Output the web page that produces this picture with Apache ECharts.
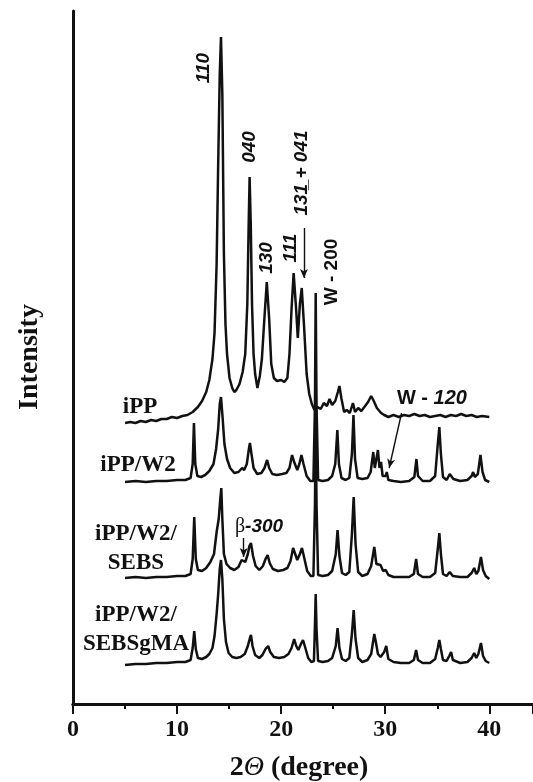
<!DOCTYPE html>
<html>
<head>
<meta charset="utf-8">
<script src="https://cdn.jsdelivr.net/npm/echarts@6/dist/echarts.min.js"></script>
<style>
  html, body { margin: 0; padding: 0; background: #fff; }
  #main { width: 533px; height: 782px; }
</style>
</head>
<body>
<div id="main"></div>
<script>
// 2-theta (degree) vs intensity (a.u., stacked with offsets as in the figure)
var xTicks = [0, 10, 20, 30, 40]

var iPP = [
  [5.0, 281], [5.5, 282], [6.0, 281], [6.5, 283], [7.0, 282], [7.5, 284], [8.0, 283], [8.5, 285],
  [9.0, 285], [9.5, 287], [10.0, 286], [10.5, 288], [11.0, 289], [11.5, 292], [12.0, 297], [12.4, 303],
  [12.8, 312], [13.1, 324], [13.4, 345], [13.6, 371], [13.8, 440], [13.95, 540], [14.1, 630], [14.22, 667],
  [14.35, 610], [14.5, 450], [14.65, 380], [14.8, 350], [15.04, 326], [15.3, 316], [15.5, 312], [15.7, 314],
  [16.0, 320], [16.3, 332], [16.55, 350], [16.75, 400], [16.88, 480], [16.97, 527], [17.08, 480], [17.2, 400],
  [17.35, 350], [17.5, 330], [17.72, 316], [17.95, 328], [18.15, 345], [18.4, 387], [18.62, 422], [18.85, 385],
  [19.05, 340], [19.3, 326], [19.6, 323], [20.0, 324], [20.3, 322], [20.6, 326], [20.8, 350], [21.0, 395],
  [21.2, 431], [21.42, 398], [21.6, 366], [21.8, 400], [21.98, 416], [22.2, 378], [22.45, 330], [22.7, 310],
  [22.95, 300], [23.2, 294], [23.5, 297], [23.8, 295], [24.1, 301], [24.4, 298], [24.65, 305], [24.9, 299],
  [25.2, 303], [25.45, 312], [25.6, 318], [25.8, 305], [26.05, 292], [26.3, 294], [26.6, 291], [26.9, 301],
  [27.1, 292], [27.4, 296], [27.7, 293], [28.0, 297], [28.35, 302], [28.65, 308], [28.9, 303], [29.2, 296],
  [29.6, 291], [29.9, 289], [30.3, 287], [30.8, 289], [31.3, 287], [31.8, 289], [32.3, 288], [32.8, 290],
  [33.3, 288], [33.8, 289], [34.3, 287], [34.8, 288], [35.3, 289], [35.8, 287], [36.3, 289], [36.8, 288],
  [37.3, 290], [37.8, 288], [38.3, 289], [38.8, 287], [39.3, 288], [40.0, 287]
]

var iPPW2 = [
  [5.0, 222], [6, 223], [7, 222], [8, 223], [9, 223], [10, 224], [10.8, 224], [11.3, 226], [11.5, 240],
  [11.62, 281], [11.75, 240], [11.95, 228], [12.3, 227], [12.7, 229], [13.1, 233], [13.5, 240], [13.75, 255],
  [13.95, 275], [14.1, 300], [14.22, 307], [14.35, 290], [14.55, 260], [14.8, 245], [15.1, 236], [15.5, 231],
  [15.9, 232], [16.25, 236], [16.45, 234], [16.7, 240], [16.9, 255], [17.0, 261], [17.15, 250], [17.35, 236],
  [17.7, 230], [18.1, 231], [18.4, 236], [18.65, 244], [18.85, 236], [19.15, 230], [19.6, 229], [20.1, 230],
  [20.5, 231], [20.8, 236], [21.05, 249], [21.25, 242], [21.55, 234], [21.75, 240], [21.95, 249], [22.15, 240],
  [22.45, 228], [22.8, 223], [23.1, 223], [23.25, 300], [23.32, 411], [23.4, 300], [23.55, 224], [24.0, 223],
  [24.5, 224], [24.9, 228], [25.2, 240], [25.4, 274], [25.55, 240], [25.8, 226], [26.2, 224], [26.55, 226],
  [26.8, 250], [26.95, 289], [27.1, 245], [27.35, 226], [27.8, 225], [28.3, 226], [28.6, 232], [28.85, 252],
  [29.0, 236], [29.15, 238], [29.3, 254], [29.45, 236], [29.6, 242], [29.75, 228], [30.05, 228], [30.15, 232],
  [30.3, 224], [30.8, 223], [31.5, 222], [32.3, 223], [32.8, 227], [33.0, 245], [33.15, 228], [33.6, 223],
  [34.3, 223], [34.8, 228], [35.05, 260], [35.2, 277], [35.35, 250], [35.55, 227], [35.9, 224], [36.2, 230],
  [36.35, 231], [36.55, 225], [37.2, 223], [37.9, 224], [38.3, 228], [38.45, 232], [38.6, 227], [38.9, 230],
  [39.15, 249], [39.35, 232], [39.6, 224], [40.0, 222]
]

var iPPW2SEBS = [
  [5.0, 126], [6, 127], [7, 126], [8, 127], [9, 127], [10, 128], [10.8, 128], [11.3, 130], [11.5, 145],
  [11.65, 187], [11.8, 145], [12.0, 134], [12.4, 133], [12.8, 136], [13.2, 142], [13.55, 150], [13.8, 172],
  [14.0, 185], [14.15, 205], [14.25, 216], [14.35, 185], [14.5, 150], [14.75, 140], [15.1, 136], [15.5, 134],
  [15.9, 137], [16.2, 144], [16.38, 146], [16.55, 142], [16.8, 150], [16.95, 158], [17.1, 161], [17.3, 148],
  [17.55, 138], [17.9, 134], [18.25, 138], [18.5, 145], [18.7, 149], [18.9, 141], [19.2, 135], [19.7, 133],
  [20.2, 134], [20.6, 136], [20.9, 143], [21.15, 156], [21.35, 150], [21.55, 144], [21.8, 150], [22.0, 156],
  [22.2, 147], [22.5, 133], [22.85, 128], [23.1, 128], [23.25, 200], [23.32, 284], [23.4, 200], [23.55, 129],
  [24.0, 128], [24.5, 129], [24.9, 133], [25.25, 150], [25.42, 174], [25.6, 148], [25.85, 131], [26.2, 129],
  [26.55, 132], [26.8, 170], [26.97, 207], [27.15, 160], [27.4, 132], [27.8, 128], [28.3, 130], [28.65, 138],
  [28.95, 157], [29.15, 140], [29.3, 142], [29.55, 139], [29.8, 133], [30.05, 134], [30.3, 129], [30.8, 127],
  [31.5, 127], [32.3, 127], [32.75, 130], [32.97, 145], [33.15, 130], [33.6, 127], [34.3, 127], [34.8, 131],
  [35.05, 155], [35.2, 171], [35.35, 150], [35.55, 130], [35.9, 128], [36.2, 132], [36.33, 134], [36.5, 128],
  [37.2, 127], [37.9, 127], [38.3, 131], [38.55, 136], [38.75, 130], [38.95, 133], [39.2, 147], [39.4, 134],
  [39.65, 128], [40.0, 125]
]

var iPPW2SEBSgMA = [
  [5.0, 39], [6, 40], [7, 40], [8, 41], [9, 41], [10, 42], [10.8, 42], [11.3, 44], [11.5, 56], [11.65, 73],
  [11.8, 55], [12.0, 46], [12.4, 45], [12.8, 47], [13.1, 50], [13.4, 56], [13.6, 68], [13.8, 90], [13.95, 110],
  [14.1, 135], [14.22, 144], [14.35, 125], [14.5, 85], [14.7, 62], [14.95, 51], [15.3, 47], [15.7, 46],
  [16.1, 47], [16.5, 50], [16.8, 58], [17.0, 66], [17.1, 69], [17.25, 58], [17.5, 49], [17.9, 46], [18.2, 49],
  [18.5, 55], [18.75, 58], [18.95, 52], [19.3, 47], [19.8, 46], [20.3, 47], [20.7, 50], [21.0, 56], [21.25, 65],
  [21.45, 58], [21.65, 54], [21.9, 60], [22.1, 64], [22.3, 57], [22.6, 46], [22.9, 42], [23.15, 43], [23.25, 80],
  [23.32, 110], [23.4, 75], [23.55, 43], [24.0, 42], [24.5, 43], [24.9, 46], [25.25, 58], [25.42, 76], [25.6, 56],
  [25.85, 45], [26.2, 43], [26.55, 46], [26.8, 70], [26.97, 94], [27.15, 65], [27.4, 46], [27.8, 42], [28.3, 44],
  [28.65, 50], [28.95, 70], [29.1, 62], [29.3, 50], [29.55, 47], [29.9, 52], [30.1, 58], [30.3, 45], [30.8, 42],
  [31.5, 41], [32.3, 41], [32.75, 44], [32.97, 54], [33.15, 44], [33.6, 41], [34.3, 41], [34.8, 45], [35.05, 56],
  [35.2, 64], [35.35, 55], [35.55, 44], [35.9, 43], [36.15, 48], [36.33, 52], [36.5, 44], [37.2, 41], [37.9, 42],
  [38.3, 46], [38.55, 51], [38.75, 46], [38.95, 50], [39.2, 61], [39.4, 48], [39.65, 43], [40.0, 41]
]

// curve names and where they are written (data coords)
var curveLabels = [
  { text: 'iPP', at: [6.44, 297] },
  { text: 'iPP/W2', at: [6.24, 239] },
  { text: 'iPP/W2/\nSEBS', at: [6.05, 155] },
  { text: 'iPP/W2/\nSEBSgMA', at: [6.05, 74] }
]

// reflection labels, rotated
var peakLabels = [
  { text: '110', at: [12.58, 636], italic: true },
  { text: '040', at: [17.0, 557], italic: true },
  { text: '130', at: [18.64, 446], italic: true },
  { text: '111', at: [20.94, 456], italic: true },
  { text: '131\u0332 + 041', at: [22.0, 531], italic: true },
  { text: 'W - 200', at: [24.88, 432], italic: false }
]

var arrows = [
  [[22.19, 476], [22.19, 426]],
  [[16.4, 166], [16.4, 147]],
  [[31.57, 291], [30.38, 236]]
]

var serif = "'Liberation Serif', 'Times New Roman', serif"
var sans = "'Liberation Sans', Arial, sans-serif"

var myChart = echarts.init(document.getElementById('main'))

function line(data) {
  return {
    type: 'line',
    data: data,
    showSymbol: false,
    symbol: 'none',
    lineStyle: { color: '#111', width: 2.5 },
    animation: false,
    silent: true
  }
}

var series = [line(iPP), line(iPPW2), line(iPPW2SEBS), line(iPPW2SEBSgMA)]
series[0].markLine = {
  silent: true,
  animation: false,
  symbol: ['none', 'arrow'],
  symbolSize: [6, 9],
  label: { show: false },
  lineStyle: { color: '#111', width: 1.4, type: 'solid' },
  data: arrows.map(function (a) {
    return [{ coord: a[0] }, { coord: a[1] }]
  })
}

myChart.setOption({
  animation: false,
  grid: { left: 73, right: 0, top: 11, bottom: 78 },
  xAxis: [
    {
      type: 'value',
      min: 0,
      max: 44.2,
      interval: 10,
      axisLine: { show: true, onZero: false, lineStyle: { color: '#111', width: 3 } },
      axisTick: { show: true, length: 10, lineStyle: { color: '#111', width: 2 } },
      minorTick: { show: true, splitNumber: 2, length: 5, lineStyle: { color: '#111', width: 2 } },
      splitLine: { show: false },
      axisLabel: {
        showMaxLabel: false,
        margin: 14,
        color: '#111',
        fontFamily: serif,
        fontWeight: 'bold',
        fontSize: 24,
        formatter: function (v) { return xTicks.indexOf(v) >= 0 ? String(v) : '' }
      }
    },
    {
      type: 'value',
      position: 'top',
      min: 0,
      max: 44.2,
      axisLine: { show: true, lineStyle: { color: '#111', width: 3 } },
      axisTick: { show: false },
      axisLabel: { show: false },
      splitLine: { show: false }
    }
  ],
  yAxis: {
    type: 'value',
    min: 0,
    max: 693,
    axisLine: { show: true, lineStyle: { color: '#111', width: 3 } },
    axisTick: { show: false },
    axisLabel: { show: false },
    splitLine: { show: false }
  },
  series: series
})

function px(p) {
  return myChart.convertToPixel({ xAxisIndex: 0, yAxisIndex: 0 }, p)
}

var graphics = []

curveLabels.forEach(function (c) {
  var p = px(c.at)
  graphics.push({
    type: 'text',
    x: p[0],
    y: p[1],
    style: {
      text: c.text,
      font: 'bold 23px ' + serif,
      fill: '#111',
      align: 'center',
      verticalAlign: 'middle',
      lineHeight: 29
    }
  })
})

peakLabels.forEach(function (l) {
  var p = px(l.at)
  graphics.push({
    type: 'text',
    x: p[0],
    y: p[1],
    rotation: Math.PI / 2,
    style: {
      text: l.text,
      font: (l.italic ? 'italic ' : '') + 'bold 19px ' + sans,
      fill: '#111',
      align: 'center',
      verticalAlign: 'middle'
    }
  })
})

var w120 = px([34.49, 306])
graphics.push({
  type: 'text',
  x: w120[0],
  y: w120[1],
  style: {
    text: '{a|W - }{b|120}',
    align: 'center',
    verticalAlign: 'middle',
    rich: {
      a: { font: 'bold 20px ' + sans, fill: '#111' },
      b: { font: 'italic bold 20px ' + sans, fill: '#111' }
    }
  }
})

var beta = px([17.87, 177])
graphics.push({
  type: 'text',
  x: beta[0],
  y: beta[1],
  style: {
    text: '{a|\u03b2}{b|-300}',
    align: 'center',
    verticalAlign: 'middle',
    rich: {
      a: { font: '20px ' + serif, fill: '#111' },
      b: { font: 'italic bold 19px ' + sans, fill: '#111' }
    }
  }
})

// axis titles
graphics.push({
  type: 'text',
  x: 30,
  y: 357,
  rotation: Math.PI / 2,
  style: {
    text: 'Intensity',
    font: 'bold 28px ' + serif,
    fill: '#111',
    align: 'center',
    verticalAlign: 'middle'
  }
})
graphics.push({
  type: 'text',
  x: 299,
  y: 768,
  style: {
    text: '{n|2}{t|\u0398}{n| (degree)}',
    align: 'center',
    verticalAlign: 'middle',
    rich: {
      n: { font: 'bold 28px ' + serif, fill: '#111' },
      t: { font: 'italic 28px ' + serif, fill: '#111' }
    }
  }
})

myChart.setOption({ graphic: graphics })
</script>
</body>
</html>
